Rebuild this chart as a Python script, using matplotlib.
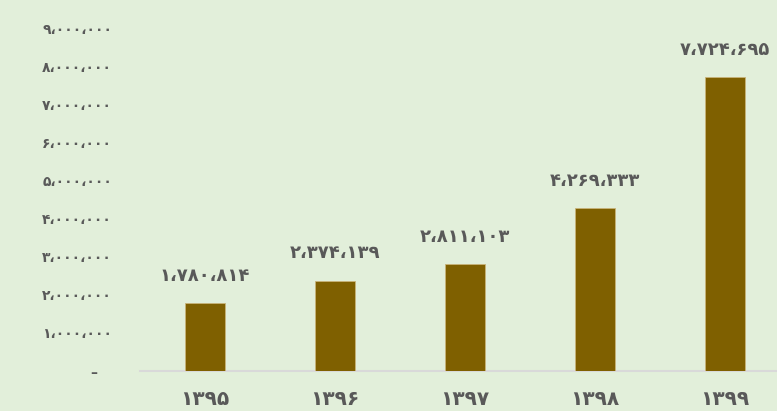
import matplotlib
matplotlib.use("Agg")
import matplotlib.pyplot as plt

# data
years = ["۱۳۹۵", "۱۳۹۶", "۱۳۹۷", "۱۳۹۸", "۱۳۹۹"]
values = [1780814, 2374139, 2811103, 4269333, 7724695]
y_ticks = [0, 1000000, 2000000, 3000000, 4000000, 5000000,
           6000000, 7000000, 8000000, 9000000]

BG = "#e2efda"
BAR = "#7f6000"
TXT = "#595959"

FA_DIGITS = str.maketrans("0123456789,", "۰۱۲۳۴۵۶۷۸۹،")


def fa_num(v):
    """Format a number with Persian digits and Arabic separator."""
    if v == 0:
        return "–   "  # accounting-style zero
    return f"{v:,}".translate(FA_DIGITS)


plt.rcParams["font.family"] = ["DejaVu Sans"]
FONT = dict(fontweight="bold", color=TXT)

W, H = 777, 411
fig = plt.figure(figsize=(W / 100, H / 100), dpi=100, facecolor=BG)
ax = fig.add_axes([140 / W, (H - 371) / H, 650 / W, (371 - 28) / H])
ax.set_facecolor(BG)

x = list(range(len(years)))
ax.bar(x, values, width=0.315, color=BAR, edgecolor="#c9b47a",
       linewidth=0.6, zorder=3)

for xi, v in zip(x, values):
    ax.annotate(fa_num(v), (xi, v), xytext=(0, 13), textcoords="offset points",
                ha="center", va="bottom", fontsize=13, **FONT)

ax.set_xlim(-0.5, len(years) - 0.5)
ax.set_ylim(0, 9000000)
ax.set_xticks(x)
ax.set_xticklabels(years, fontsize=14.5, **FONT)
ax.set_yticks(y_ticks)
ax.set_yticklabels([fa_num(t) for t in y_ticks], fontsize=10, **FONT)
ax.tick_params(axis="x", length=0, pad=14)
ax.tick_params(axis="y", length=0, pad=20)

for s in ["top", "right", "left"]:
    ax.spines[s].set_visible(False)
ax.spines["bottom"].set_color("#d9d9d9")
ax.spines["bottom"].set_linewidth(1.5)

fig.savefig("out.png", dpi=100, facecolor=BG)
